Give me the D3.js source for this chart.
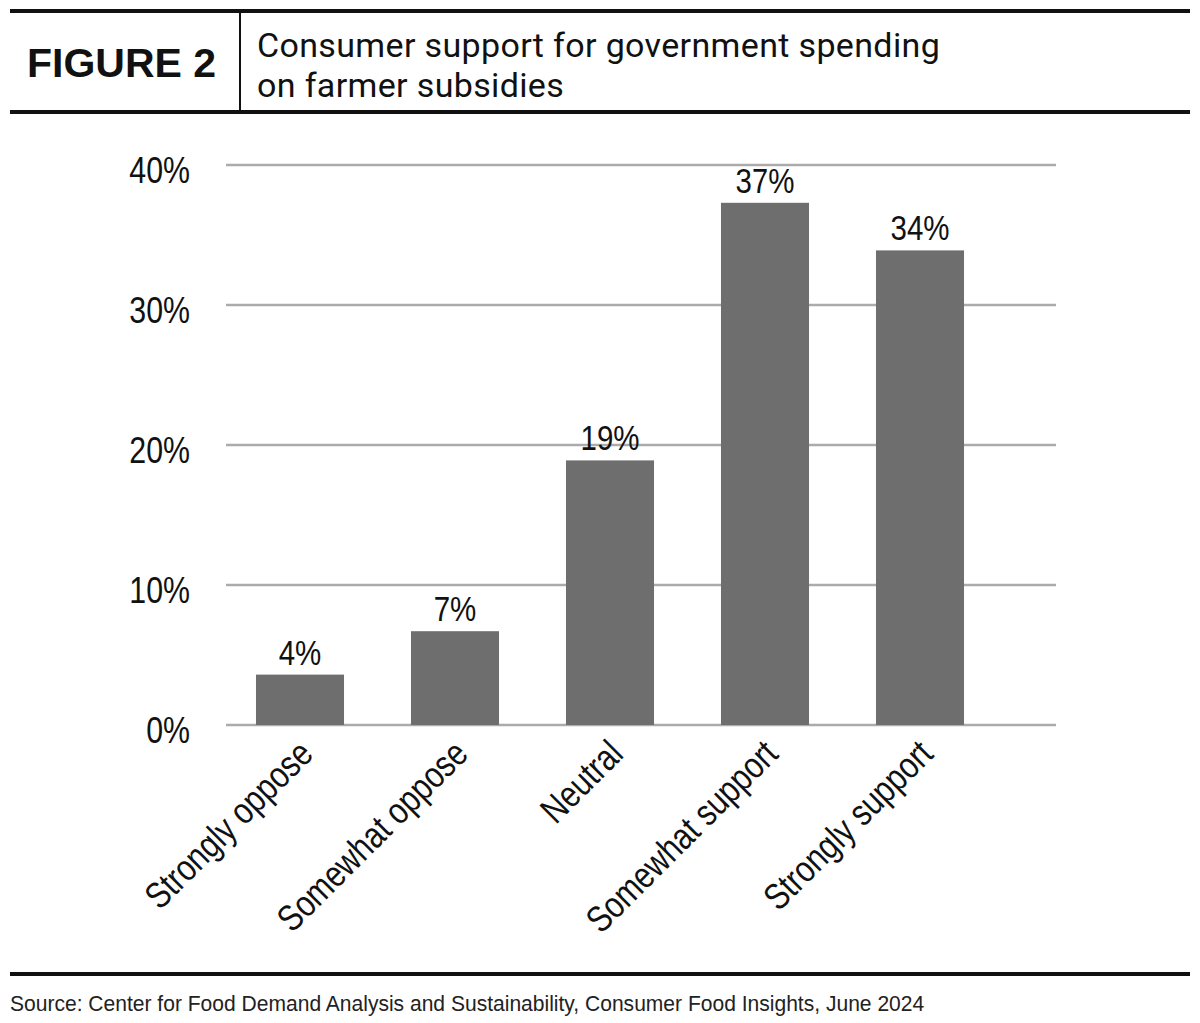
<!DOCTYPE html>
<html>
<head>
<meta charset="utf-8">
<script src="https://cdn.jsdelivr.net/npm/d3@7"></script>
<style>
  body { margin: 0; background: #fff; }
  svg { display: block; }
</style>
</head>
<body>
<div id="chart"></div>
<script>
var categories = ["Strongly oppose", "Somewhat oppose", "Neutral", "Somewhat support", "Strongly support"];
var values = [3.6, 6.7, 18.9, 37.3, 33.9];
var valueLabels = ["4%", "7%", "19%", "37%", "34%"];
var yTicks = [0, 10, 20, 30, 40];

var W = 1200, H = 1023;
// no narrow face installed, so squeeze Liberation Sans horizontally
var sans = "'Liberation Sans', Arial, sans-serif";
var SQUEEZE = 0.82;

var svg = d3.select("#chart")
			.append("svg")
			.attr("width", W)
			.attr("height", H);

// header rules
svg.append("line").attr("x1", 10).attr("x2", 1190).attr("y1", 11).attr("y2", 11)
	.style("stroke", "#111").style("stroke-width", 4);
svg.append("line").attr("x1", 10).attr("x2", 1190).attr("y1", 112).attr("y2", 112)
	.style("stroke", "#111").style("stroke-width", 4);
svg.append("line").attr("x1", 240).attr("x2", 240).attr("y1", 11).attr("y2", 112)
	.style("stroke", "#111").style("stroke-width", 2);

svg.append("text")
	.attr("x", 27).attr("y", 77)
	.style("font-family", sans)
	.style("font-weight", "bold")
	.style("font-size", "41px")
	.style("fill", "#111")
	.text("FIGURE 2");

var titleLines = ["Consumer support for government spending", "on farmer subsidies"];
svg.selectAll("text.title")
	.data(titleLines)
	.enter().append("text")
	.attr("class", "title")
	.attr("x", 257)
	.attr("y", function(d, i) { return 57 + i * 40; })
	.style("font-family", "Roboto, sans-serif")
	.style("font-size", "34px")
	.style("letter-spacing", "0.35px")
	.style("fill", "#111")
	.text(function(d) { return d; });

// chart
var x = d3.scaleBand()
			.domain(categories)
			.range([222.5, 997.5])
			.paddingInner(0.432)
			.paddingOuter(0.216);

var y = d3.scaleLinear()
			.domain([0, 40])
			.range([725, 165]);

svg.append("g").selectAll("line")
	.data(yTicks)
	.enter().append("line")
	.attr("x1", 226)
	.attr("x2", 1056)
	.attr("y1", function(d) { return y(d); })
	.attr("y2", function(d) { return y(d); })
	.style("stroke", "#ababab")
	.style("stroke-width", 2.5);

var yAxis = svg.append("g")
	.attr("transform", "translate(190,0)")
	.call(d3.axisLeft(y).tickValues(yTicks).tickSize(0).tickPadding(0)
		.tickFormat(function(d) { return d + "%"; }));
yAxis.select(".domain").remove();
yAxis.selectAll("text")
	.attr("x", 0)
	.attr("dy", 17)
	.attr("transform", "scale(" + SQUEEZE + ",1)")
	.style("font-family", sans)
	.style("font-size", "37px")
	.style("fill", "#111");

svg.selectAll("rect.bar")
	.data(values)
	.enter().append("rect")
	.attr("class", "bar")
	.attr("x", function(d, i) { return x(categories[i]); })
	.attr("y", function(d) { return y(d); })
	.attr("width", x.bandwidth())
	.attr("height", function(d) { return y(0) - y(d); })
	.style("fill", "#6e6e6e");

svg.selectAll("text.vlabel")
	.data(values)
	.enter().append("text")
	.attr("class", "vlabel")
	.attr("transform", function(d, i) {
		return "translate(" + (x(categories[i]) + x.bandwidth() / 2) + "," + (y(d) - 10) + ") scale(" + SQUEEZE + ",1)";
	})
	.attr("text-anchor", "middle")
	.style("font-family", sans)
	.style("font-size", "36px")
	.style("fill", "#111")
	.text(function(d, i) { return valueLabels[i]; });

var xAxis = svg.append("g")
	.attr("transform", "translate(0,725)")
	.call(d3.axisBottom(x).tickSize(0).tickPadding(0));
xAxis.select(".domain").remove();
xAxis.selectAll("text")
	.attr("text-anchor", "end")
	.attr("dy", null)
	.attr("y", 0)
	.attr("transform", "translate(15,31) rotate(-45) scale(0.82,1)")
	.style("font-family", sans)
	.style("font-size", "37px")
	.style("fill", "#111");

// footer
svg.append("line").attr("x1", 10).attr("x2", 1190).attr("y1", 974).attr("y2", 974)
	.style("stroke", "#111").style("stroke-width", 4);
var source = svg.append("text")
	.attr("x", 0).attr("y", 0)
	.style("font-family", sans)
	.style("font-size", "22px")
	.style("fill", "#222")
	.text("Source: Center for Food Demand Analysis and Sustainability, Consumer Food Insights, June 2024");
var srcLen = source.node().getComputedTextLength();
source.attr("transform", "translate(10,1011) scale(" + (915 / srcLen) + ",1)");
</script>
</body>
</html>
